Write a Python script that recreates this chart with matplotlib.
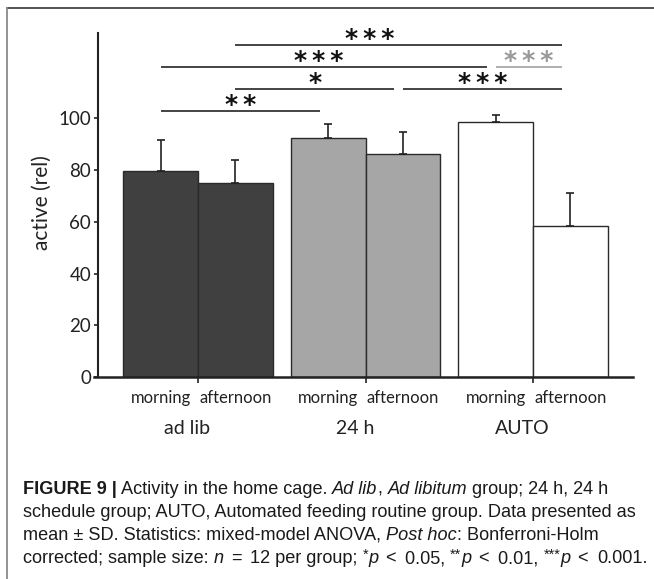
import matplotlib
matplotlib.use('Agg')
import matplotlib.pyplot as plt
from matplotlib.lines import Line2D

# ---------------- data ----------------
groups = ['ad lib', '24 h', 'AUTO']
times = ['morning', 'afternoon']
mean_morning = [79.7, 92.3, 98.7]
mean_afternoon = [75.0, 86.3, 58.4]
sd_morning = [12.0, 5.4, 2.7]
sd_afternoon = [8.8, 8.4, 12.6]
bar_colors = ['#404040', '#a6a6a6', '#ffffff']
yticks = [0, 20, 40, 60, 80, 100]
ylabel = 'active (rel)'
# significance brackets: (bar a, bar b, level, label, colour); bar index = 2*group + time
sig = [
    (0, 2, 103.0, '**', '#111111'),
    (1, 3, 111.5, '*', '#111111'),
    (3, 5, 111.5, '***', '#111111'),
    (0, 4, 120.0, '***', '#111111'),
    (4, 5, 120.0, '***', '#999999'),
    (1, 5, 128.4, '***', '#111111'),
]
sig_text_shift = [0, 0, 0, -0.03, 0, -0.17]

caption = [
    [("FIGURE 9 |", 'bold'), (" Activity in the home cage. ", 'normal'), ("Ad lib", 'italic'),
     (", ", 'normal'), ("Ad libitum", 'italic'), (" group; 24 h, 24 h", 'normal')],
    [("schedule group; AUTO, Automated feeding routine group. Data presented as", 'normal')],
    [("mean \u00b1 SD. Statistics: mixed-model ANOVA, ", 'normal'), ("Post hoc", 'italic'),
     (": Bonferroni-Holm", 'normal')],
    [("corrected; sample size: ", 'normal'), ("n", 'italic'), (" = ", 'rel'), ("12 per group; ", 'normal'),
     ("*", 'sup'), ("p", 'italic'), (" < ", 'rel'), ("0.05, ", 'normal'), ("**", 'sup'), ("p", 'italic'),
     (" < ", 'rel'), ("0.01, ", 'normal'), ("***", 'sup'), ("p", 'italic'), (" < ", 'rel'),
     ("0.001.", 'normal')],
]

# ---------------- figure ----------------
W, H = 654, 579
fig = plt.figure(figsize=(W / 100, H / 100), dpi=100)
fig.patch.set_facecolor('white')

def fx(px):
    return px / W

def fy(py):
    return 1 - py / H

CHART_FONT = 'Lato'
TXT = '#222222'

ax = fig.add_axes([fx(94), fy(377), (633 - 94) / W, (377 - 33) / H])
ax.set_xlim(-0.621, 2.597)
ax.set_ylim(0, 133)

w = 0.445
xs, hs, es, cs = [], [], [], []
for g in range(len(groups)):
    for t, (m, s) in enumerate([(mean_morning[g], sd_morning[g]), (mean_afternoon[g], sd_afternoon[g])]):
        xs.append(g + (t - 0.5) * w)
        hs.append(m)
        es.append(s)
        cs.append(bar_colors[g])

ax.bar(xs, hs, width=w, color=cs, edgecolor='#2a2a2a', linewidth=1.0, zorder=2)
ax.errorbar(xs, hs, yerr=[[0] * len(es), es], fmt='none', ecolor='#222222',
            elinewidth=1.2, capsize=2.6, capthick=1.2, zorder=3)

for sp in ['top', 'right']:
    ax.spines[sp].set_visible(False)
ax.spines['left'].set_position(('data', -0.597))
ax.spines['left'].set_linewidth(1.5)
ax.spines['left'].set_color('#222222')
ax.spines['bottom'].set_linewidth(1.8)
ax.spines['bottom'].set_color('#222222')

ax.set_yticks(yticks)
ax.set_yticklabels([str(v) for v in yticks], fontfamily=CHART_FONT, fontsize=13.5, color=TXT)
ax.tick_params(axis='y', direction='out', length=3, width=1.2, pad=2, colors='#222222')
ax.set_xticks(range(len(groups)))
ax.set_xticklabels([''] * len(groups))
ax.tick_params(axis='x', direction='out', length=4.5, width=1.2, colors='#222222')

xt = ax.get_xaxis_transform()
ax_h = 377 - 33
for i, x in enumerate(xs):
    ax.text(x, -(398 - 377) / ax_h, times[i % 2], transform=xt, ha='center', va='center',
            fontfamily=CHART_FONT, fontsize=12, color=TXT)
for g, name in enumerate(groups):
    ax.text(g - 0.063, -(428 - 377) / ax_h, name, transform=xt, ha='center', va='center',
            fontfamily=CHART_FONT, fontsize=14, color=TXT)

fig.text(fx(42), fy(203), ylabel, rotation=90, ha='center', va='center',
         fontfamily=CHART_FONT, fontsize=15, color=TXT)

for k, (a, b, lvl, lab, col) in enumerate(sig):
    x1 = xs[a]
    x2 = xs[b] - 0.05
    ax.plot([x1, x2], [lvl, lvl], color=col, lw=1.1, clip_on=False, zorder=4, solid_capstyle='butt')
    xm = (x1 + x2) / 2 + sig_text_shift[k]
    ax.text(xm, lvl - 0.6, '\u2009'.join(lab), ha='center', va='baseline', fontfamily='DejaVu Sans',
            fontweight='bold', fontsize=18, color=col, clip_on=False)

# frame lines
fig.add_artist(Line2D([fx(7), 1], [fy(8), fy(8)], color='#444444', lw=1.3))
fig.add_artist(Line2D([fx(7), fx(7)], [fy(8), 0], color='#8a8a8a', lw=1.3))

# ---------------- caption ----------------
renderer = fig.canvas.get_renderer()
CAP_FONT = 'Liberation Sans'
REL_PAD = 3.0

def seg_props(style, size):
    d = dict(fontfamily=CAP_FONT, fontsize=size, color='#1a1a1a')
    if style == 'bold':
        d['fontweight'] = 'bold'
    elif style == 'italic':
        d['fontstyle'] = 'italic'
    elif style == 'sup':
        d['fontsize'] = size * 0.8
    return d

def adv(s, props):
    t1 = fig.text(0, 0, s + '|', **props)
    t2 = fig.text(0, 0, '|', **props)
    wdt = t1.get_window_extent(renderer).width - t2.get_window_extent(renderer).width
    t1.remove()
    t2.remove()
    return wdt

def seg_adv(s, st, size):
    a = adv(s, seg_props(st, size))
    if st == 'rel':
        a += 2 * REL_PAD
    return a

def line_width(segs, size):
    return sum(seg_adv(s, st, size) for s, st in segs)

base = 10.0
size = base * (640 - 23) / line_width(caption[1], base)

baselines = [494, 517, 540, 563]
for segs, bl in zip(caption, baselines):
    x = 23.0
    for s, st in segs:
        p = seg_props(st, size)
        yb = bl - (4 if st == 'sup' else 0)
        xo = x + (REL_PAD if st == 'rel' else 0)
        fig.text(fx(xo), fy(yb), s, va='baseline', ha='left', **p)
        x += seg_adv(s, st, size)

fig.savefig('out.png', dpi=100)
